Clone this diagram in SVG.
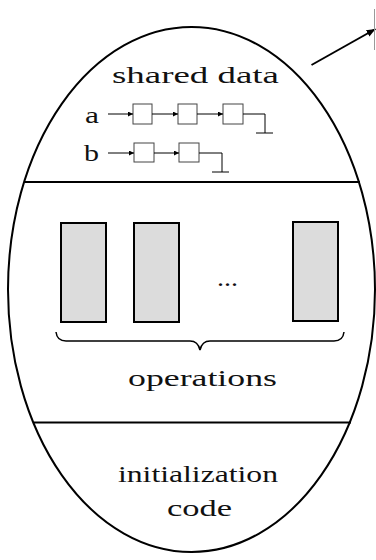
<svg xmlns="http://www.w3.org/2000/svg" width="376" height="560" viewBox="0 0 376 560">
  <defs>
    <marker id="ah" viewBox="0 0 10 10" refX="10" refY="5" markerWidth="5" markerHeight="5" orient="auto" markerUnits="userSpaceOnUse">
      <path d="M0,0 L10,5 L0,10 Z" fill="#000"/>
    </marker>
    <marker id="ahBig" viewBox="0 0 10 10" refX="10" refY="5" markerWidth="9" markerHeight="9" orient="auto" markerUnits="userSpaceOnUse">
      <path d="M0,1 L10,5 L0,9 Z" fill="#000"/>
    </marker>
    <style>
      .t { font-family: "Liberation Serif", "Times New Roman", serif; font-size: 23px; fill: #111; }
      .outline { fill: none; stroke: #000; stroke-width: 2; }
      .div { stroke: #000; stroke-width: 2; }
      .cell { fill: #fff; stroke: #444; stroke-width: 1; }
      .link { stroke: #000; stroke-width: 1; fill: none; }
      .op { fill: #dcdcdc; stroke: #000; stroke-width: 2; }
    </style>
  </defs>

  <!-- monitor outline and section dividers -->
  <g id="monitor">
    <ellipse class="outline" cx="191.5" cy="289.5" rx="183.5" ry="262.5"/>
    <line class="div" x1="25" y1="182" x2="360" y2="182"/>
    <line class="div" x1="34" y1="422.5" x2="351" y2="422.5"/>
  </g>

  <!-- shared data section -->
  <g id="shared-data">
    <text class="t" x="112" y="83" textLength="167" lengthAdjust="spacingAndGlyphs">shared data</text>
    <text class="t" x="85" y="123" textLength="14" lengthAdjust="spacingAndGlyphs">a</text>
    <text class="t" x="84" y="161" textLength="15" lengthAdjust="spacingAndGlyphs">b</text>
    <g id="list-a">
      <rect class="cell" x="133" y="104" width="19" height="20"/>
      <rect class="cell" x="178" y="104" width="19" height="20"/>
      <rect class="cell" x="223" y="104" width="20" height="20"/>
    </g>
    <g id="list-b">
      <rect class="cell" x="134" y="143" width="20" height="19"/>
      <rect class="cell" x="179" y="143" width="20" height="19"/>
    </g>
  </g>

  <!-- list pointers and the outgoing arrow -->
  <g id="connectors">
    <line class="link" x1="108" y1="114" x2="133" y2="114" marker-end="url(#ah)"/>
    <line class="link" x1="152" y1="114" x2="178" y2="114" marker-end="url(#ah)"/>
    <line class="link" x1="197" y1="114" x2="223" y2="114" marker-end="url(#ah)"/>
    <polyline class="link" points="243,114 265,114 265,133"/>
    <line class="link" x1="256" y1="133" x2="273" y2="133"/>
    <line class="link" x1="108" y1="153" x2="134" y2="153" marker-end="url(#ah)"/>
    <line class="link" x1="154" y1="153" x2="179" y2="153" marker-end="url(#ah)"/>
    <polyline class="link" points="199,153 222,153 222,172"/>
    <line class="link" x1="212" y1="172" x2="229" y2="172"/>
    <line stroke="#000" stroke-width="2" x1="311.5" y1="65" x2="375.5" y2="29" marker-end="url(#ahBig)"/>
    <line stroke="#999" stroke-width="1" x1="374.5" y1="9" x2="374.5" y2="50"/>
  </g>

  <!-- operations section -->
  <g id="operations">
    <rect class="op" x="61" y="223" width="45" height="99"/>
    <rect class="op" x="134" y="223" width="45" height="99"/>
    <rect class="op" x="293" y="222" width="45" height="99"/>
    <text class="t" x="217" y="286" textLength="21" lengthAdjust="spacingAndGlyphs">...</text>
    <path d="M56,332 Q57,341 66,341 L190,341 Q198,341 200,350 Q202,341 210,341 L334,341 Q343,341 344,332" fill="none" stroke="#000" stroke-width="1.5"/>
    <text class="t" x="128" y="386" textLength="149" lengthAdjust="spacingAndGlyphs">operations</text>
  </g>

  <!-- initialization section -->
  <g id="initialization">
    <text class="t" x="118" y="482" textLength="160" lengthAdjust="spacingAndGlyphs">initialization</text>
    <text class="t" x="167" y="516" textLength="65" lengthAdjust="spacingAndGlyphs">code</text>
  </g>
</svg>
